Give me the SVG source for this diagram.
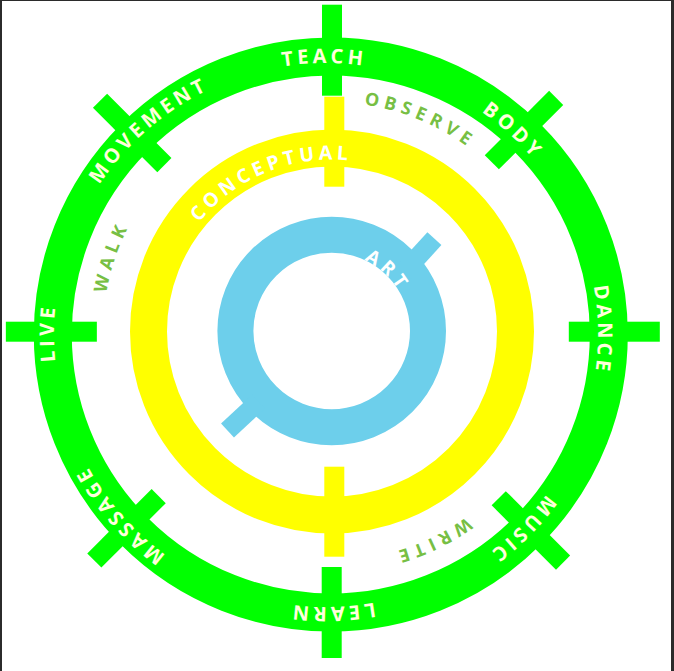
<svg xmlns="http://www.w3.org/2000/svg" width="674" height="671" viewBox="0 0 674 671">
<style>
.g{fill:#00FF00}
.y{fill:#FFFF00}
.b{stroke:#6DCFEB;fill:none}
.t{font-family:"Open Sans","Liberation Sans",sans-serif;font-weight:700}
.lg{font-size:20px;letter-spacing:3.9px;fill:#FFFFDC}
.lo{font-size:18px;letter-spacing:5.2px;fill:#77BF44}
.ly{font-size:19.5px;letter-spacing:4.2px;fill:#FFFFFF}
.la{font-size:19px;letter-spacing:4.2px;fill:#FFFFFF}
</style>
<defs>
<path id="pg" d="M 598 335 A 272 272 0 0 1 54 335 A 272 272 0 0 1 598 335 A 272 272 0 0 1 54 335 A 272 272 0 0 1 598 335"/>
<path id="po" d="M 561 331.5 A 229 229 0 0 1 103 331.5 A 229 229 0 0 1 561 331.5 A 229 229 0 0 1 103 331.5 A 229 229 0 0 1 561 331.5"/>
<path id="py" d="M 504 331.5 A 172 172 0 0 1 160 331.5 A 172 172 0 0 1 504 331.5 A 172 172 0 0 1 160 331.5 A 172 172 0 0 1 504 331.5"/>
<path id="pa" d="M 409.7 331 A 78 78 0 0 1 253.7 331 A 78 78 0 0 1 409.7 331 A 78 78 0 0 1 253.7 331 A 78 78 0 0 1 409.7 331"/>
<rect id="bar" x="-45.5" y="-10" width="91" height="20"/>
</defs>
<rect x="0" y="0" width="674" height="671" fill="#FFFFFF"/>
<g id="frame" fill="#2B2B2B">
<rect x="0" y="0" width="2" height="671"/>
<rect x="671" y="0" width="3" height="671"/>
<rect x="0" y="0" width="674" height="1"/>
</g>
<g id="outer-ring">
<circle cx="330.8" cy="334.5" r="278" fill="none" stroke="#00FF00" stroke-width="38"/>
<g class="g">
<use href="#bar" transform="translate(614.3 331.7)"/>
<use href="#bar" transform="translate(51.35 331.7)"/>
<use href="#bar" transform="translate(332 50.2) rotate(90)"/>
<use href="#bar" transform="translate(331.7 612.5) rotate(90)"/>
<use href="#bar" transform="translate(524 130.1) rotate(-45)"/>
<use href="#bar" transform="translate(530.9 530.4) rotate(45)"/>
<use href="#bar" transform="translate(126.5 528.3) rotate(-45)"/>
<use href="#bar" transform="translate(132.2 132.9) rotate(45)"/>
</g>
<text class="t lg" text-anchor="middle"><textPath href="#pg" startOffset="1279.5">TEACH</textPath></text>
<text class="t lg" text-anchor="middle"><textPath href="#pg" startOffset="1482.8">BODY</textPath></text>
<text class="t lg" text-anchor="middle"><textPath href="#pg" startOffset="1703.3">DANCE</textPath></text>
<text class="t lg" text-anchor="middle"><textPath href="#pg" startOffset="1920.3">MUSIC</textPath></text>
<text class="t lg" text-anchor="middle"><textPath href="#pg" startOffset="2129.2">LEARN</textPath></text>
<text class="t lg" text-anchor="middle"><textPath href="#pg" startOffset="2367.2">MASSAGE</textPath></text>
<text class="t lg" text-anchor="middle"><textPath href="#pg" startOffset="856.1">LIVE</textPath></text>
<text class="t lg" text-anchor="middle"><textPath href="#pg" startOffset="1087.2">MOVEMENT</textPath></text>
</g>
<g id="between-labels">
<text class="t lo" text-anchor="middle"><textPath href="#po" startOffset="794">WALK</textPath></text>
<text class="t lo" text-anchor="middle"><textPath href="#po" startOffset="1168.9">OBSERVE</textPath></text>
<text class="t lo" text-anchor="middle"><textPath href="#po" startOffset="1695.3">WRITE</textPath></text>
</g>
<g id="middle-ring">
<circle cx="332" cy="331.5" r="183.5" fill="none" stroke="#FFFF00" stroke-width="37"/>
<rect class="y" x="324.3" y="96.7" width="20" height="90"/>
<rect class="y" x="324.3" y="466.7" width="20" height="90"/>
<text class="t ly" text-anchor="middle"><textPath href="#py" startOffset="744">CONCEPTUAL</textPath></text>
</g>
<g id="inner-ring">
<circle class="b" cx="331.7" cy="331" r="96.3" stroke-width="36"/>
<line class="b" x1="227.5" y1="430.5" x2="258.5" y2="401.7" stroke-width="19"/>
<line class="b" x1="403.4" y1="272.5" x2="434.4" y2="238.7" stroke-width="19"/>
<text class="t la" text-anchor="middle"><textPath href="#pa" startOffset="425">ART</textPath></text>
</g>
</svg>
